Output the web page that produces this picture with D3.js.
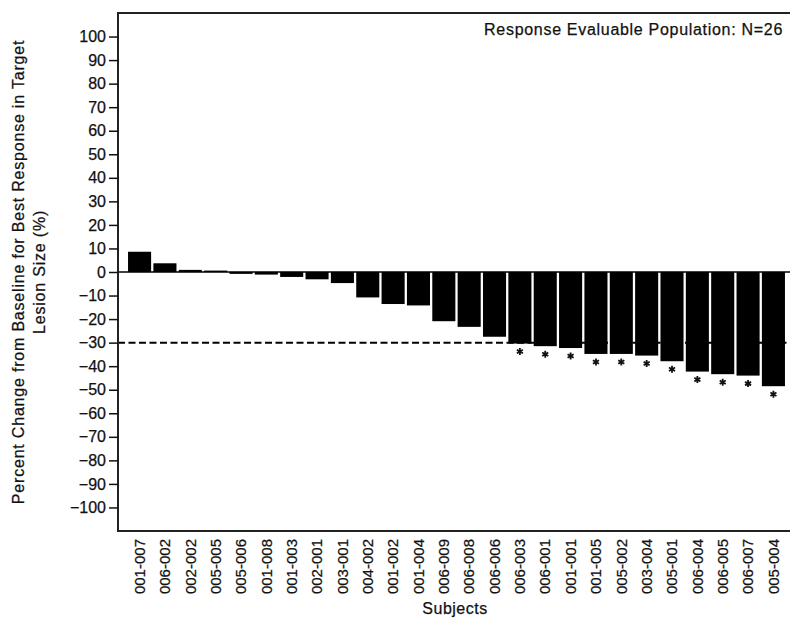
<!DOCTYPE html>
<html>
<head>
<meta charset="utf-8">
<script src="https://cdn.jsdelivr.net/npm/d3@7"></script>
<style>
  body { margin: 0; background: #fff; overflow: hidden; }
  svg { display: block; font-family: "Liberation Sans", Arial, sans-serif; }
  text { stroke: #111; stroke-width: 0.25px; }
</style>
</head>
<body>
<div id="chart"></div>
<script>
// subjects in plotted order and best % change in target lesion size
const subjects = ["001-007", "006-002", "002-002", "005-005", "005-006", "001-008", "001-003",
  "002-001", "003-001", "004-002", "001-002", "001-004", "006-009", "006-008", "006-006",
  "006-003", "006-001", "001-001", "001-005", "005-002", "003-004", "005-001", "006-004",
  "006-005", "006-007", "005-004"];
const pctChange = [8.6, 3.7, 0.9, 0.6, -0.8, -1.1, -2.1, -3.1, -4.7, -10.8, -13.6, -14.2,
  -20.9, -23.3, -27.5, -30.4, -31.5, -32.3, -34.8, -34.8, -35.5, -37.9, -42.3, -43.4, -44.0, -48.5];
// subjects flagged with an asterisk
const flagged = ["006-003", "006-001", "001-001", "001-005", "005-002", "003-004", "005-001",
  "006-004", "006-005", "006-007", "005-004"];
const yTicks = d3.range(-100, 101, 10);
const threshold = -30;

const data = subjects.map((s, i) => ({ subject: s, value: pctChange[i] }));

const width = 790, height = 619;
const frame = { left: 118, top: 13, right: 797, bottom: 531 };

const svg = d3.select("#chart").append("svg")
    .attr("width", width)
    .attr("height", height);

const x = d3.scaleBand()
    .domain(subjects)
    .range([126.9, 786.1])
    .paddingInner(0.09)
    .paddingOuter(0.045);

const y = d3.scaleLinear()
    .domain([-110, 110])
    .range([frame.bottom, frame.top]);

// bars
svg.append("g")
  .selectAll("rect")
  .data(data)
  .join("rect")
    .attr("x", d => x(d.subject))
    .attr("width", x.bandwidth())
    .attr("y", d => y(Math.max(0, d.value)))
    .attr("height", d => Math.abs(y(d.value) - y(0)))
    .attr("fill", "#000");

// zero line
svg.append("line")
    .attr("x1", frame.left).attr("x2", width)
    .attr("y1", y(0)).attr("y2", y(0))
    .attr("stroke", "#000")
    .attr("stroke-width", 1.5);

// -30% reference line
svg.append("line")
    .attr("x1", frame.left).attr("x2", width)
    .attr("y1", y(threshold)).attr("y2", y(threshold))
    .attr("stroke", "#000")
    .attr("stroke-width", 2)
    .attr("stroke-dasharray", "7,3.5");

// asterisks under flagged bars
svg.append("g")
  .selectAll("path")
  .data(data.filter(d => flagged.includes(d.subject)))
  .join("path")
    .attr("d", d3.symbol(d3.symbolAsterisk, 34))
    .attr("transform", d => `translate(${x(d.subject) + x.bandwidth() / 2},${y(d.value) + 8})`)
    .attr("stroke", "#111")
    .attr("stroke-width", 1.8)
    .attr("fill", "none");

// frame
svg.append("rect")
    .attr("x", frame.left).attr("y", frame.top)
    .attr("width", frame.right - frame.left)
    .attr("height", frame.bottom - frame.top)
    .attr("fill", "none")
    .attr("stroke", "#222")
    .attr("stroke-width", 2);

// y axis
const yAxisG = svg.append("g")
    .attr("transform", `translate(${frame.left},0)`)
    .call(d3.axisLeft(y).tickValues(yTicks).tickSize(9).tickPadding(3))
    .call(g => g.select(".domain").remove());
yAxisG.selectAll(".tick line").attr("stroke", "#111").attr("stroke-width", 1.5);
yAxisG.selectAll(".tick text")
    .attr("fill", "#111")
    .style("font-size", "16px")
    .style("font-family", "'Liberation Sans', Arial, sans-serif");

// x axis labels
const xAxisG = svg.append("g")
    .attr("transform", `translate(0,${frame.bottom})`)
    .call(d3.axisBottom(x).tickSize(0).tickPadding(0))
    .call(g => g.select(".domain").remove());
xAxisG.selectAll(".tick text")
    .attr("transform", "rotate(-90)")
    .attr("text-anchor", "end")
    .attr("x", -8)
    .attr("y", 0)
    .attr("dy", "0.35em")
    .attr("fill", "#111")
    .style("font-size", "15px")
    .style("font-family", "'Liberation Sans', Arial, sans-serif");

// axis titles
svg.append("text")
    .attr("x", 455)
    .attr("y", 614)
    .attr("text-anchor", "middle")
    .attr("fill", "#111")
    .style("font-size", "16px")
    .style("letter-spacing", "0.5px")
    .text("Subjects");

const yTitle = svg.append("text")
    .attr("transform", `translate(24,${y(0)}) rotate(-90)`)
    .attr("text-anchor", "middle")
    .attr("fill", "#111")
    .style("font-size", "16px")
    .style("letter-spacing", "0.8px");
yTitle.append("tspan")
    .attr("x", 0).attr("y", 0)
    .text("Percent Change from Baseline for Best Response in Target");
yTitle.append("tspan")
    .attr("x", 0).attr("y", 21)
    .text("Lesion Size (%)");

// population note
svg.append("text")
    .attr("x", 783)
    .attr("y", 35)
    .attr("text-anchor", "end")
    .attr("fill", "#111")
    .style("font-size", "16px")
    .style("letter-spacing", "0.7px")
    .text("Response Evaluable Population: N=26");
</script>
</body>
</html>
